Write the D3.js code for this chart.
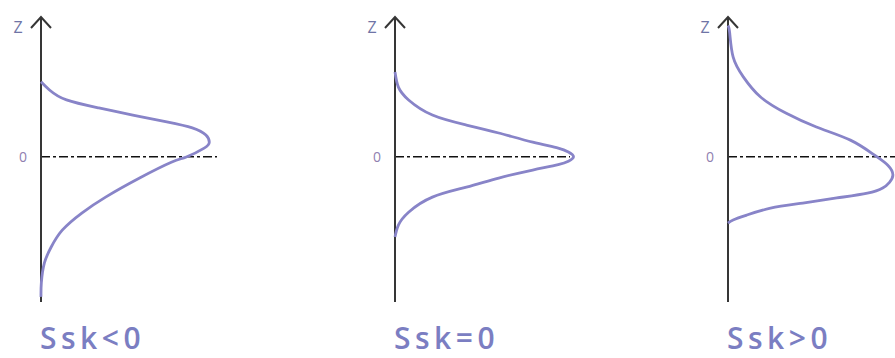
<!DOCTYPE html>
<html>
<head>
<meta charset="utf-8">
<script src="https://cdn.jsdelivr.net/npm/d3@7"></script>
<style>
  html, body { margin: 0; padding: 0; background: #ffffff; }
  #chart { width: 895px; height: 358px; }
</style>
</head>
<body>
<div id="chart"></div>
<script>
// Panel captions
const captions = ['Ssk<0', 'Ssk=0', 'Ssk>0'];

// Negative skew: height z (top to bottom) and relative density
const zNeg = [2.63, 2.34, 1.99, 1.71, 1.46, 1.22, 1.01, 0.76, 0.51, 0.30, -0.01, -0.19, -0.75, -1.42, -1.98, -2.58, -3.17, -3.73, -4.43, -4.92];
const densNeg = [0, 0.05, 0.15, 0.34, 0.54, 0.74, 0.89, 0.97, 0.99, 0.96, 0.855, 0.77, 0.58, 0.38, 0.24, 0.125, 0.06, 0.02, 0.002, 0];

// Zero skew (symmetric)
const zSym = [2.97, 2.44, 1.99, 1.46, 1.11, 0.83, 0.51, 0.30, 0.16, 0, -0.16, -0.28, -0.47, -0.75, -1.07, -1.42, -1.95, -2.40, -2.82];
const densSym = [0, 0.02, 0.08, 0.22, 0.42, 0.61, 0.81, 0.96, 1.02, 1.05, 1.02, 0.96, 0.81, 0.61, 0.42, 0.22, 0.08, 0.02, 0];

// Positive skew
const zPos = [4.6, 4.34, 3.50, 2.80, 2.10, 1.53, 1.04, 0.58, 0.06, -0.30, -0.64, -0.90, -1.10, -1.28, -1.45, -1.63, -1.81, -2.05, -2.22, -2.33];
const densPos = [0, 0.01, 0.03, 0.09, 0.19, 0.34, 0.52, 0.72, 0.86, 0.94, 0.97, 0.95, 0.91, 0.82, 0.64, 0.44, 0.25, 0.11, 0.03, 0];

const series = [
    { z: zNeg, d: densNeg },
    { z: zSym, d: densSym },
    { z: zPos, d: densPos }
];

const colors = {
    axis: '#363636',
    curve: '#8884c8',
    zero: '#111111',
    caption: '#7b7ec2',
    zLabel: '#6f74a6',
    zeroLabel: '#9080b0'
};

const width = 895, height = 358;
const axisX = [41, 395, 728];
const axisTop = 17, axisBottom = 302;
const zeroLineEnd = [217, 570, 895];

const svg = d3.select('#chart')
    .append('svg')
    .attr('width', width)
    .attr('height', height)
    .style('background', '#ffffff');

// Shared vertical scale (height z)
const yScale = d3.scaleLinear().domain([-5.1, 4.9]).range([axisBottom, axisTop]);

series.forEach((s, i) => {
    const x0 = axisX[i];
    const xScale = d3.scaleLinear().domain([0, 1]).range([x0, x0 + 170]);
    const g = svg.append('g').attr('class', 'panel');

    // zero line (dash-dot)
    g.append('line')
        .attr('x1', x0)
        .attr('x2', zeroLineEnd[i])
        .attr('y1', yScale(0))
        .attr('y2', yScale(0))
        .attr('stroke', colors.zero)
        .attr('stroke-width', 1.5)
        .attr('stroke-dasharray', '9,3,3,3');

    // vertical axis with open arrow head
    g.append('line')
        .attr('x1', x0).attr('x2', x0)
        .attr('y1', axisTop).attr('y2', axisBottom)
        .attr('stroke', colors.axis)
        .attr('stroke-width', 2);

    g.append('path')
        .attr('d', `M${x0 - 10},${axisTop + 11}L${x0},${axisTop}L${x0 + 10},${axisTop + 11}`)
        .attr('fill', 'none')
        .attr('stroke', colors.axis)
        .attr('stroke-width', 2);

    // labels
    g.append('text')
        .attr('x', x0 - 23)
        .attr('y', axisTop + 16)
        .attr('text-anchor', 'middle')
        .attr('fill', colors.zLabel)
        .style('font-family', 'Open Sans, sans-serif')
        .style('font-size', '16px')
        .text('Z');

    g.append('text')
        .attr('x', x0 - 18)
        .attr('y', yScale(0) + 5)
        .attr('text-anchor', 'middle')
        .attr('fill', colors.zeroLabel)
        .style('font-family', 'Open Sans, sans-serif')
        .style('font-size', '14px')
        .text('0');

    // distribution curve
    const pts = s.z.map((z, k) => ({ z: z, d: s.d[k] }));
    const line = d3.line()
        .x(d => xScale(d.d))
        .y(d => yScale(d.z))
        .curve(d3.curveNatural);

    g.append('path')
        .datum(pts)
        .attr('d', line)
        .attr('fill', 'none')
        .attr('stroke', colors.curve)
        .attr('stroke-width', 2.8);

    // caption
    g.append('text')
        .attr('x', x0 - 1)
        .attr('y', 349)
        .attr('fill', colors.caption)
        .style('font-family', 'Open Sans, sans-serif')
        .style('font-size', '30px')
        .style('font-weight', '600')
        .style('letter-spacing', '4.5px')
        .text(captions[i]);
});
</script>
</body>
</html>
